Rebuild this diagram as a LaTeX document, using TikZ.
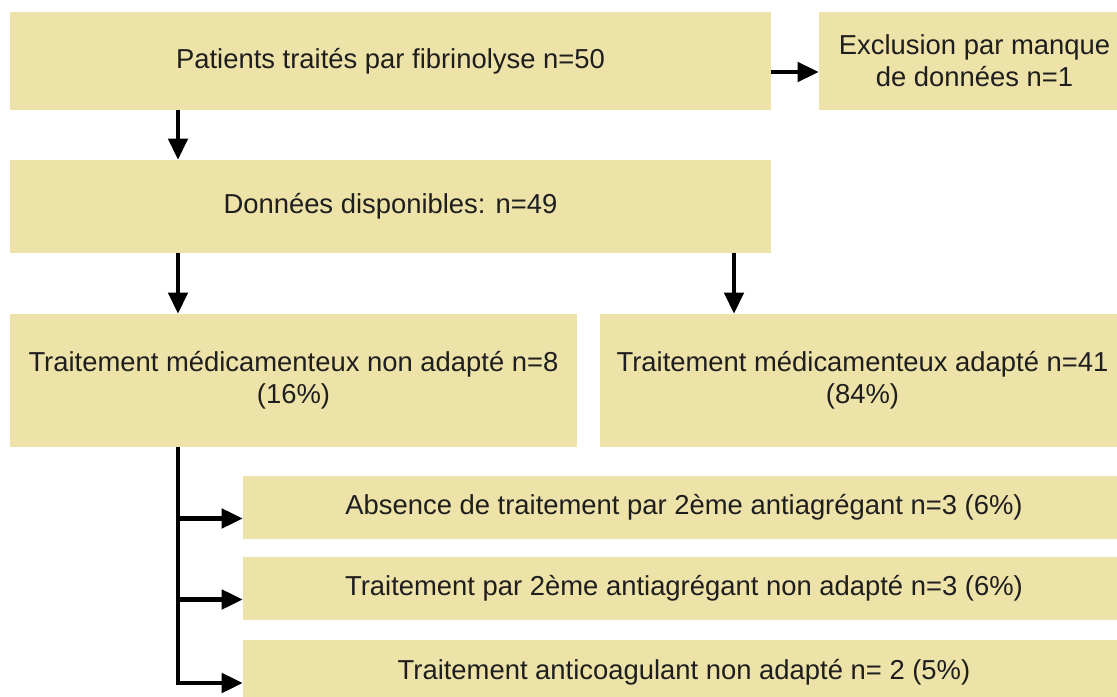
\documentclass[tikz,border=0pt]{standalone}
\usepackage{fontspec}
\setmainfont{Liberation Sans}
\usetikzlibrary{arrows.meta}
\definecolor{boxfill}{RGB}{237,226,168}
\definecolor{ink}{RGB}{30,30,30}
\tikzstyle{box}=[fill=boxfill, draw=none, shape=rectangle, inner sep=0pt, align=center, text=ink, font=\fontsize{15.6}{18.2}\selectfont]
\tikzstyle{wire}=[-{Triangle[length=12pt,width=11pt]}, line width=2.3pt, black]

\begin{document}
\begin{tikzpicture}[x=0.02cm, y=-0.02cm]
    \clip (0, 0) rectangle (1117, 697);
    \coordinate (c1) at (178, 0);
    \coordinate (c2) at (734, 0);

    \node [box, minimum width=15.22cm, minimum height=1.96cm] (p0) at (390.5, 61) {Patients traités par fibrinolyse n=50};
    \node [box, minimum width=6.22cm, minimum height=1.96cm] (ex) at (974.5, 61) {Exclusion par manque\\de données n=1};
    \node [box, minimum width=15.22cm, minimum height=1.86cm] (d0) at (390.5, 206.5) {Données disponibles: n=49};

    \node [box, minimum width=11.34cm, minimum height=2.66cm] (na) at (293.5, 380.5) {Traitement médicamenteux non adapté n=8\\(16\%)};
    \node [box, minimum width=10.5cm, minimum height=2.66cm] (ad) at (862.5, 380.5) {Traitement médicamenteux adapté n=41\\(84\%)};

    \node [box, minimum width=17.64cm, minimum height=1.26cm] (b1) at (684, 507.5) {Absence de traitement par 2ème antiagrégant n=3 (6\%)};
    \node [box, minimum width=17.64cm, minimum height=1.26cm] (b2) at (684, 588.5) {Traitement par 2ème antiagrégant non adapté n=3 (6\%)};
    \node [box, minimum width=17.64cm, minimum height=1.28cm] (b3) at (684, 672) {Traitement anticoagulant non adapté n= 2 (5\%)};

    \draw [wire] ([yshift=-0.22cm]p0.east) -- ([yshift=-0.22cm]ex.west);
    \draw [wire] (p0.south -| c1) -- (d0.north -| c1);
    \draw [wire] (d0.south -| c1) -- (na.north -| c1);
    \draw [wire] (d0.south -| c2) -- (ad.north -| c2);

    \draw [wire] (na.south -| c1) |- ([yshift=-0.22cm]b1.west);
    \draw [wire] (na.south -| c1) |- ([yshift=-0.22cm]b2.west);
    \draw [wire] (na.south -| c1) |- ([yshift=-0.22cm]b3.west);
\end{tikzpicture}
\end{document}
